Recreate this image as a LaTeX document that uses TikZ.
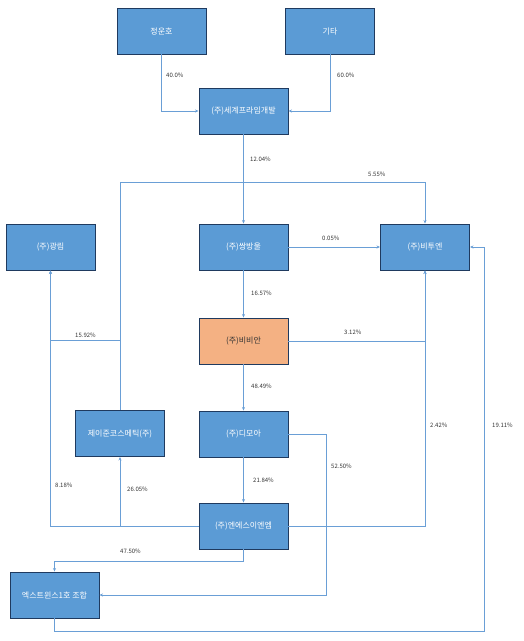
\documentclass[tikz,border=0pt]{standalone}
\usepackage{fontspec}
\setmainfont{Noto Sans CJK KR}
\usetikzlibrary{arrows.meta}
\definecolor{boxblue}{HTML}{5B9BD5}
\definecolor{boxedge}{HTML}{1F3A5F}
\definecolor{boxorange}{HTML}{F4B183}
\definecolor{linkblue}{HTML}{6A9FD6}
\definecolor{labgray}{HTML}{333333}
\tikzset{
  company/.style={draw=boxedge, line width=0.9pt, fill=boxblue, text=white,
    minimum width=89pt, minimum height=46pt, inner sep=0pt, font=\fontsize{8}{9.5}\selectfont},
  target/.style={company, fill=boxorange, text=black!80},
  link/.style={draw=linkblue, line width=0.8pt, -{Stealth[length=3.5pt,width=3pt]}},
  plain/.style={draw=linkblue, line width=0.8pt},
  pct/.style={font=\fontsize{6}{7}\selectfont, text=labgray, inner sep=0pt, anchor=west}
}
\begin{document}
\begin{tikzpicture}[x=1pt,y=-1pt]
\useasboundingbox (0,0) rectangle (523,641);
% nodes
\node[company] (jung) at (161.5,31) {정운호};
\node[company] (gita) at (330,31) {기타};
\node[company] (segye) at (243.5,111) {(주)세계프라임개발};
\node[company] (kwang) at (50.5,247) {(주)광림};
\node[company] (ssang) at (243.5,247) {(주)쌍방울};
\node[company] (bitu) at (425,247) {(주)비투엔};
\node[target] (bibi) at (243.5,341) {(주)비비안};
\node[company] (jay) at (120,433.5) {제이준코스메틱(주)};
\node[company] (dimo) at (243.5,434) {(주)디모아};
\node[company] (ns) at (243.5,526) {(주)엔에스이엔엠};
\node[company] (ext) at (54.5,595) {엑스트윈스1호 조합};
% connectors
\draw[link] (jung.south) |- (segye.west);
\draw[link] (gita.south) |- (segye.east);
\draw[link] (segye.south) -- (ssang.north);
\draw[link] (jay.north) -- ++(0,-228) -| (bitu.north);
\draw[link] (ssang.east) -- (bitu.west);
\draw[link] (ssang.south) -- (bibi.north);
\draw[link] (bibi.east) -| (bitu.south);
\draw[link] (jay.north) ++(0,-70) -| (kwang.south);
\draw[link] (bibi.south) -- (dimo.north);
\draw[link] (dimo.south) -- (ns.north);
\draw[link] (ns.west) -| (kwang.south);
\draw[link] (ns.west) -| (jay.south);
\draw[link] (ns.east) -| (bitu.south);
\draw[link] (ns.south) -- ++(0,12) -| (ext.north);
\draw[link] (dimo.east) -- ++(37.5,0) |- (ext.east);
\draw[link] (ext.south) -- ++(0,13) -| ([xshift=14pt]bitu.east) -- (bitu.east);
% labels
\node[pct] (l1) at (166,75) {40.0\%};
\node[pct] (l2) at (337,75) {60.0\%};
\node[pct] (l3) at (250,159) {12.04\%};
\node[pct] (l4) at (368,174) {5.55\%};
\node[pct] (l5) at (322,238) {0.05\%};
\node[pct] (l6) at (251,293) {16.57\%};
\node[pct] (l7) at (75,335.5) {15.92\%};
\node[pct] (l8) at (344,332) {3.12\%};
\node[pct] (l9) at (251,386) {48.49\%};
\node[pct] (l10) at (430,425) {2.42\%};
\node[pct] (l11) at (492,425) {19.11\%};
\node[pct] (l12) at (331,466) {52.50\%};
\node[pct] (l13) at (253,480) {21.84\%};
\node[pct] (l14) at (55,485) {8.18\%};
\node[pct] (l15) at (127,489) {26.05\%};
\node[pct] (l16) at (120,551) {47.50\%};
\end{tikzpicture}
\end{document}
